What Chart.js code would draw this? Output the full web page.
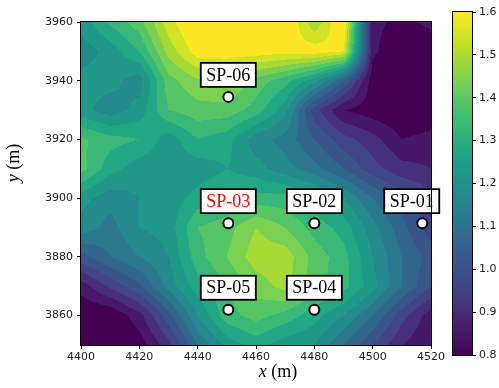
<!DOCTYPE html>
<html>
<head>
<meta charset="utf-8">
<script src="https://cdn.jsdelivr.net/npm/chart.js@4.4.1/dist/chart.umd.min.js"></script>
<style>
  html, body { margin: 0; padding: 0; background: #fff; }
  #wrap { position: relative; width: 499px; height: 388px; }
  #wrap canvas { position: absolute; left: 0; top: 0; }
</style>
</head>
<body>
<div id="wrap">
  <canvas id="mapChart" width="499" height="388"></canvas>
  <canvas id="barChart" width="499" height="388"></canvas>
</div>
<script>
// grid (m) and values, rows top to bottom
const xGrid = [4400, 4410, 4420, 4430, 4440, 4450, 4460, 4470, 4480, 4490, 4500, 4510, 4520];
const yGrid = [3960, 3950, 3940, 3930, 3920, 3910, 3900, 3890, 3880, 3870, 3860, 3850];

const z3960 = [1.22, 1.31, 1.38, 1.53, 1.62, 1.62, 1.62, 1.62, 1.46, 1.62, 0.86, 0.84, 0.86];
const z3950 = [1.17, 1.22, 1.30, 1.47, 1.58, 1.58, 1.58, 1.57, 1.58, 1.55, 0.86, 0.81, 0.82];
const z3940 = [1.22, 1.22, 1.17, 1.38, 1.44, 1.46, 1.38, 1.32, 1.22, 1.05, 0.82, 0.80, 0.80];
const z3930 = [1.22, 1.17, 1.22, 1.35, 1.38, 1.38, 1.33, 1.22, 0.97, 0.85, 0.82, 0.80, 0.80];
const z3920 = [1.36, 1.32, 1.30, 1.22, 1.30, 1.27, 1.17, 1.13, 1.05, 0.97, 0.92, 0.85, 0.87];
const z3910 = [1.37, 1.27, 1.22, 1.22, 1.22, 1.25, 1.22, 1.17, 1.12, 1.05, 0.97, 0.92, 0.90];
const z3900 = [1.22, 1.17, 1.20, 1.22, 1.27, 1.30, 1.32, 1.32, 1.27, 1.20, 1.10, 1.02, 0.97];
const z3890 = [1.18, 1.13, 1.20, 1.22, 1.35, 1.38, 1.45, 1.40, 1.33, 1.28, 1.17, 1.07, 0.97];
const z3880 = [1.03, 1.10, 1.15, 1.20, 1.33, 1.40, 1.48, 1.48, 1.38, 1.32, 1.20, 1.10, 1.03];
const z3870 = [0.87, 0.96, 1.04, 1.17, 1.28, 1.35, 1.42, 1.47, 1.37, 1.32, 1.22, 1.10, 1.00];
const z3860 = [0.80, 0.80, 0.88, 1.03, 1.20, 1.33, 1.37, 1.33, 1.27, 1.20, 1.10, 0.97, 0.87];
const z3850 = [0.80, 0.80, 0.82, 0.93, 1.10, 1.22, 1.27, 1.22, 1.20, 1.10, 1.00, 0.90, 0.85];
const zGrid = [z3960, z3950, z3940, z3930, z3920, z3910, z3900, z3890, z3880, z3870, z3860, z3850];

const levels = [0.80, 0.85, 0.90, 0.95, 1.00, 1.05, 1.10, 1.15, 1.20, 1.25, 1.30, 1.35, 1.40, 1.45, 1.50, 1.55, 1.60];

// sampling points
const siteNames = ["SP-01", "SP-02", "SP-03", "SP-04", "SP-05", "SP-06"];
const siteX = [4517, 4480, 4450.5, 4480, 4450.5, 4450.5];
const siteY = [3891.5, 3891.5, 3891.5, 3862, 3862, 3934.5];

const xTicks = [4400, 4420, 4440, 4460, 4480, 4500, 4520];
const yTicks = [3860, 3880, 3900, 3920, 3940, 3960];
const cbTicks = [0.8, 0.9, 1.0, 1.1, 1.2, 1.3, 1.4, 1.5, 1.6];

const viridisStops = ["#440154", "#482475", "#414487", "#355f8d", "#2a788e", "#21918c",
                      "#22a884", "#44bf70", "#7ad151", "#bddf26", "#fde725"];

function hexRgb(h) {
    return [parseInt(h.substr(1, 2), 16), parseInt(h.substr(3, 2), 16), parseInt(h.substr(5, 2), 16)];
}

function viridis(t) {
    t = Math.min(1, Math.max(0, t));
    const p = t * (viridisStops.length - 1);
    const k = Math.min(viridisStops.length - 2, Math.floor(p));
    const f = p - k;
    const a = hexRgb(viridisStops[k]), b = hexRgb(viridisStops[k + 1]);
    return [0, 1, 2].map(c => Math.round(a[c] + (b[c] - a[c]) * f));
}

const nBands = levels.length - 1;
const bandColors = [];
for (let i = 0; i < nBands; i++) bandColors.push(viridis(i / (nBands - 1)));

function locate(arr, v) {
    const lo = Math.min(arr[0], arr[arr.length - 1]);
    const hi = Math.max(arr[0], arr[arr.length - 1]);
    v = Math.min(hi, Math.max(lo, v));
    for (let k = 0; k < arr.length - 1; k++) {
        const a = arr[k], b = arr[k + 1];
        if ((v - a) * (v - b) <= 0) return [k, (v - a) / (b - a)];
    }
    return [arr.length - 2, 1];
}

// filled contours, drawn under the points
const contourPlugin = {
    id: "contourFill",
    beforeDatasetsDraw(chart) {
        const { ctx, chartArea: area, scales: { x, y } } = chart;
        const left = Math.round(area.left), top = Math.round(area.top);
        const w = Math.round(area.right) - left, h = Math.round(area.bottom) - top;
        const img = ctx.createImageData(w, h);
        const xs = [];
        for (let i = 0; i < w; i++) xs.push(locate(xGrid, x.getValueForPixel(left + i + 0.5)));
        for (let j = 0; j < h; j++) {
            const [r, fy] = locate(yGrid, y.getValueForPixel(top + j + 0.5));
            const row0 = zGrid[r], row1 = zGrid[r + 1];
            for (let i = 0; i < w; i++) {
                const [c, fx] = xs[i];
                const z0 = row0[c] + (row0[c + 1] - row0[c]) * fx;
                const z1 = row1[c] + (row1[c + 1] - row1[c]) * fx;
                const z = z0 + (z1 - z0) * fy;
                let b = 0;
                while (b < nBands - 1 && z >= levels[b + 1]) b++;
                const col = bandColors[b];
                const o = (j * w + i) * 4;
                img.data[o] = col[0];
                img.data[o + 1] = col[1];
                img.data[o + 2] = col[2];
                img.data[o + 3] = 255;
            }
        }
        ctx.putImageData(img, left, top);
    },
    afterDraw(chart) {
        const { ctx, chartArea: a } = chart;
        ctx.save();
        ctx.strokeStyle = "#000";
        ctx.lineWidth = 1;
        ctx.strokeRect(Math.round(a.left) - 0.5, Math.round(a.top) - 0.5,
                       Math.round(a.right - a.left) + 1, Math.round(a.bottom - a.top) + 1);

        // axis titles, italic variable + roman unit
        ctx.fillStyle = "#000";
        ctx.textBaseline = "middle";
        const drawTitle = (cx, cy, rot) => {
            ctx.save();
            ctx.translate(cx, cy);
            ctx.rotate(rot);
            ctx.font = "italic 18px 'Liberation Serif'";
            const v = rot ? "y" : "x";
            const w1 = ctx.measureText(v).width;
            ctx.font = "18px 'Liberation Serif'";
            const rest = " (m)";
            const w2 = ctx.measureText(rest).width;
            const x0 = -(w1 + w2) / 2;
            ctx.font = "italic 18px 'Liberation Serif'";
            ctx.textAlign = "left";
            ctx.fillText(v, x0, 0);
            ctx.font = "18px 'Liberation Serif'";
            ctx.fillText(rest, x0 + w1, 0);
            ctx.restore();
        };
        drawTitle(278, 372, 0);
        drawTitle(14, 163, -Math.PI / 2);
        ctx.restore();
    }
};

// boxed site names above the points
const sitePlugin = {
    id: "siteLabels",
    afterDatasetsDraw(chart, args, opts) {
        const { ctx, scales: { x, y } } = chart;
        ctx.save();
        ctx.font = "18px 'Liberation Serif'";
        ctx.textAlign = "center";
        ctx.textBaseline = "middle";
        siteNames.forEach((name, i) => {
            const dx = opts.shift[name] || 0;
            const cx = x.getPixelForValue(siteX[i]) + dx;
            const cy = y.getPixelForValue(siteY[i]) - 22;
            const tw = ctx.measureText(name).width;
            const bw = tw + 11, bh = 24;
            ctx.fillStyle = "#fff";
            ctx.fillRect(cx - bw / 2, cy - bh / 2, bw, bh);
            ctx.strokeStyle = "#000";
            ctx.lineWidth = 1.8;
            ctx.strokeRect(cx - bw / 2, cy - bh / 2, bw, bh);
            ctx.fillStyle = name === opts.highlight ? "#ff0000" : "#000";
            ctx.fillText(name, cx, cy + 1);
        });
        ctx.restore();
    }
};

const tickFont = { family: "'DejaVu Sans'", size: 11 };

new Chart(document.getElementById("mapChart"), {
    type: "scatter",
    data: {
        datasets: [{
            data: siteX.map((v, i) => ({ x: v, y: siteY[i] })),
            backgroundColor: "#fff",
            borderColor: "#000",
            pointRadius: 5,
            pointBorderWidth: 2,
            pointHoverRadius: 5
        }]
    },
    options: {
        responsive: false,
        animation: false,
        events: [],
        layout: { padding: { left: 0, top: 22, right: 68, bottom: 0 } },
        plugins: {
            legend: { display: false },
            tooltip: { enabled: false },
            siteLabels: { highlight: "SP-03", shift: { "SP-01": -10.5 } }
        },
        scales: {
            x: {
                type: "linear",
                min: 4400, max: 4520,
                afterBuildTicks: s => { s.ticks = xTicks.map(v => ({ value: v })); },
                afterFit: s => { s.height = 43; },
                ticks: { font: tickFont, color: "#222", padding: 2, maxRotation: 0, callback: v => String(v) },
                grid: { drawOnChartArea: false, drawTicks: true, tickLength: 4, tickColor: "#000" },
                border: { color: "#000" }
            },
            y: {
                type: "linear",
                min: 3850, max: 3960,
                afterBuildTicks: s => { s.ticks = yTicks.map(v => ({ value: v })); },
                afterFit: s => { s.width = 81; },
                ticks: { font: tickFont, color: "#222", padding: 4, callback: v => String(v) },
                grid: { drawOnChartArea: false, drawTicks: true, tickLength: 4, tickColor: "#000" },
                border: { color: "#000" }
            }
        }
    },
    plugins: [contourPlugin, sitePlugin]
});

// colour bar
const barPlugin = {
    id: "colourBar",
    beforeDatasetsDraw(chart) {
        const { ctx, chartArea: a, scales: { y } } = chart;
        const g = ctx.createLinearGradient(0, y.getPixelForValue(cbTicks[0]), 0, y.getPixelForValue(cbTicks[cbTicks.length - 1]));
        viridisStops.forEach((c, i) => g.addColorStop(i / (viridisStops.length - 1), c));
        ctx.save();
        ctx.fillStyle = g;
        ctx.fillRect(a.left, a.top, a.right - a.left, a.bottom - a.top);
        ctx.strokeStyle = "#000";
        ctx.lineWidth = 1;
        ctx.strokeRect(Math.round(a.left) - 0.5, Math.round(a.top) - 0.5,
                       Math.round(a.right - a.left) + 1, Math.round(a.bottom - a.top) + 1);
        ctx.restore();
    }
};

new Chart(document.getElementById("barChart"), {
    type: "scatter",
    data: { datasets: [] },
    options: {
        responsive: false,
        animation: false,
        events: [],
        layout: { padding: { left: 453, top: 12, right: 0, bottom: 33 } },
        plugins: { legend: { display: false }, tooltip: { enabled: false } },
        scales: {
            x: { type: "linear", display: false, min: 0, max: 1 },
            y: {
                type: "linear",
                position: "right",
                min: 0.8, max: 1.6,
                afterBuildTicks: s => { s.ticks = cbTicks.map(v => ({ value: v })); },
                afterFit: s => { s.width = 27; },
                ticks: { font: tickFont, color: "#222", padding: 3, callback: v => v.toFixed(1) },
                grid: { drawOnChartArea: false, drawTicks: true, tickLength: 4, tickColor: "#000" },
                border: { color: "#000" }
            }
        }
    },
    plugins: [barPlugin]
});
</script>
</body>
</html>
